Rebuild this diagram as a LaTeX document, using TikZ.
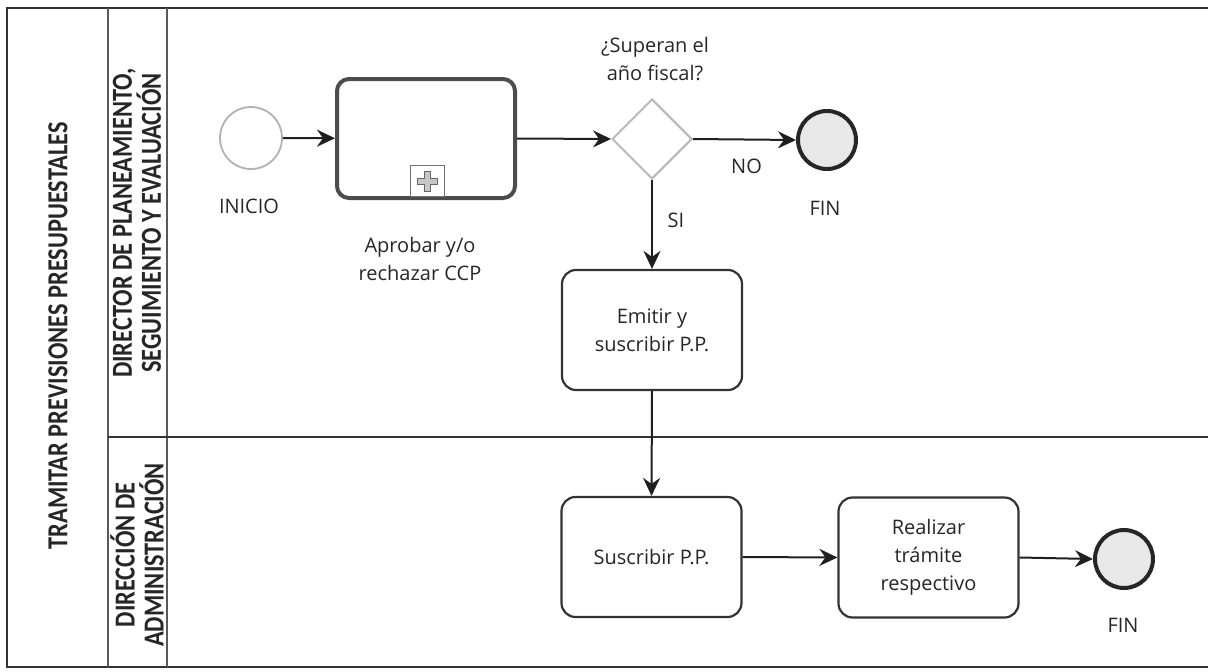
\documentclass[tikz,border=0pt]{standalone}
\usepackage{fontspec}
\setmainfont{Open Sans}
\newfontfamily\lanefont[FakeStretch=0.84]{Carlito Bold}
\usetikzlibrary{shapes.geometric,arrows.meta}

\begin{document}
\begin{tikzpicture}[x=1pt,y=-1pt,
  txt/.style={font=\fontsize{20}{28}\selectfont, text=black!85, align=center, inner sep=0pt},
  lanetxt/.style={font=\lanefont\fontsize{29}{29}\selectfont, text=black!85, align=center, inner sep=0pt, rotate=90},
  startev/.style={circle, draw=black!30, line width=1.8pt, fill=white, minimum size=62pt, inner sep=0pt},
  endev/.style={circle, draw=black!85, line width=4pt, fill=gray!18, minimum size=58pt, inner sep=0pt},
  subproc/.style={rectangle, rounded corners=12pt, draw=black!70, line width=4pt, fill=white, minimum width=178pt, minimum height=119pt, inner sep=0pt},
  taskbox/.style={rectangle, rounded corners=14pt, draw=black!80, line width=2.2pt, fill=white, minimum width=180pt, minimum height=120pt, txt},
  gate/.style={diamond, draw=black!28, line width=2pt, fill=white, minimum width=80pt, minimum height=80pt, inner sep=0pt, aspect=1},
  flow/.style={draw=black!88, line width=2pt, -{Stealth[length=18pt, width=17pt, inset=6pt]}},
  frame/.style={draw=black!80, line width=2pt},
  divider/.style={draw=black!65, line width=1.6pt}
]
\useasboundingbox (0,0) rectangle (1208,672);

% pool and lanes
\draw[frame] (1208,8) -- (7,8) -- (7,667) -- (1208,667);
\draw[divider] (108,8) -- (108,667);
\draw[divider] (167,8) -- (167,667);
\draw[frame] (108,437) -- (1208,437);

\node[lanetxt] (pool) at (58,336) {TRAMITAR PREVISIONES PRESUPUESTALES};
\node[lanetxt] (lane1) at (137,223) {DIRECTOR DE PLANEAMIENTO,\\SEGUIMIENTO Y EVALUACIÓN};
\node[lanetxt] (lane2) at (137,555) {DIRECCIÓN DE\\ADMINISTRACIÓN};

% upper lane
\node[startev] (start) at (251,138) {};
\node[txt] (startlbl) at (249,206) {INICIO};

\node[subproc] (sub) at (426,138.5) {};
\node[draw=black!55, line width=1pt, fill=white, minimum width=34pt, minimum height=31pt, inner sep=0pt, anchor=south] (mark) at (427,197) {};
% collapsed sub-process marker: a small plus sign
\draw[draw=black!60, fill=gray!45, line width=0.7pt]
  (mark.center) ++(-3,-10) -- ++(6,0) -- ++(0,7) -- ++(7,0) -- ++(0,6) -- ++(-7,0) -- ++(0,7)
  -- ++(-6,0) -- ++(0,-7) -- ++(-7,0) -- ++(0,-6) -- ++(7,0) -- cycle;
\node[txt] (sublbl) at (420,259) {Aprobar y/o\\rechazar CCP};

\node[gate] (gw) at (652,139) {};
\node[txt] (gwlbl) at (655,59) {¿Superan el\\año fiscal?};

\node[endev] (end1) at (827,140) {};
\node[txt] (end1lbl) at (825,208) {FIN};

\node[taskbox] (emit) at (652,330) {Emitir y\\suscribir P.P.};

% lower lane
\node[taskbox] (susc) at (651.5,557) {Suscribir P.P.};
\node[taskbox] (real) at (928.5,557.5) {Realizar\\trámite\\respectivo};
\node[endev] (end2) at (1124,559) {};
\node[txt] (end2lbl) at (1123,625) {FIN};

% sequence flows
\draw[flow] (start) -- (sub);
\draw[flow] (sub.east) -- (gw.west);
\draw[flow] (gw.east) -- (end1.west) node[txt, pos=0.52, yshift=-27pt] (nolbl) {NO};
\draw[flow] (gw.south) -- (emit.north) node[txt, pos=0.45, xshift=24pt] (silbl) {SI};
\draw[flow] (emit.south) -- (susc.north);
\draw[flow] (susc.east) -- (real.west);
\draw[flow] (real.east) -- (end2.west);
\end{tikzpicture}
\end{document}
